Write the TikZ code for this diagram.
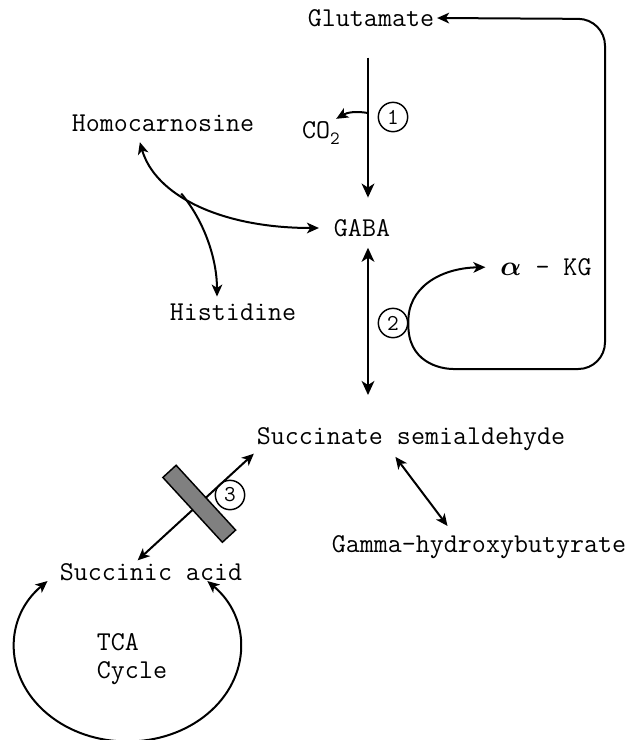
\documentclass[tikz,border=0pt]{standalone}
\usepackage{fontspec}
\usepackage{amsmath}
\usepackage{tikz}
\usetikzlibrary{arrows.meta}
\usetikzlibrary{positioning}

\begin{document}
\begin{tikzpicture}[x=0.75pt,y=-0.75pt,->,>={Stealth[length=9pt,width=8pt,inset=2.5pt]},semithick,
                    every node/.style={font=\ttfamily\fontsize{20.4}{21}\selectfont, inner sep=2pt},
                    every text node part/.style={align=left}]
  \tikzstyle{enz}=[circle,draw,line width=1.1pt,minimum size=22pt,inner sep=0pt,font=\ttfamily\fontsize{17}{17}\selectfont]
  \tikzstyle{heavy}=[line width=2.2pt,>={Stealth[length=10.5pt,width=9.5pt,inset=3pt]}]
  \tikzstyle{curve}=[line width=1.5pt]
  \tikzstyle{block}=[rectangle,draw,line width=1.1pt,fill=black!50,minimum width=13.5pt,minimum height=66pt,inner sep=0pt]

  \useasboundingbox (0,0) rectangle (636,740);

    \node (glu)  at (371,18)  {Glutamate};
    \node (gaba) at (362,228) {GABA};
    \node (homo) at (163,123) {Homocarnosine};
    \node (his)  at (233,312) {Histidine};
    \node (co2)  at (321,133) {CO\raisebox{-.45ex}{\fontsize{14}{14}\selectfont 2}};
    \node (akg)  at (546,267) {$\boldsymbol{\alpha}$ – KG};
    \node (ssa)  at (411,439) {Succinate semialdehyde};
    \node (ghb)  at (479,547) {Gamma-hydroxybutyrate};
    \node (succ) at (151,572) {Succinic acid};
    \node (tca)  at (132,659) {TCA\\Cycle};

    \node[enz] (n1) at (393,117) {1};
    \node[enz] (n2) at (393,323) {2};
    \node[enz] (n3) at (230,495) {3};

    \coordinate (c1) at (368,113);

  % glutamate -> GABA, with CO2 given off
  \draw[heavy,shorten <=21pt,shorten >=14pt] ([xshift=-2.25pt]glu.south) -- ([xshift=4.5pt]gaba.north);
  \draw[curve] (c1) to[bend right=20] ([xshift=-5pt]co2.north east);

  % GABA <-> succinate semialdehyde, alpha-KG loop back to glutamate
  \draw[heavy,<->,shorten <=6pt,shorten >=22pt] ([xshift=4.5pt]gaba.south) -- ([xshift=4.5pt]gaba.south |- ssa.north);
  \draw[curve,shorten >=9pt] (n2.east) .. controls (407,288) and (440,268) .. (akg.west);
  \draw[curve,rounded corners=20pt] (n2.east) .. controls (407,362) and (440,369) .. (480,369)
        -- (605,369) -- (605,19) -- (glu.east);

  % homocarnosine / histidine
  \draw[curve,<->,shorten <=6pt,shorten >=9pt] ([xshift=-19pt]homo.south)
        .. controls (155,195) and (220,228) .. coordinate[pos=0.4] (hj) (gaba.west);
  \draw[curve,shorten >=3pt] (hj) .. controls (205,222) and (217,260) .. ([xshift=-12pt]his.north);

  % succinate semialdehyde <-> succinic acid, blocked
  \draw[curve,<->] ([xshift=-10pt]succ.north) -- (ssa.south west)
        node[block,pos=0.53,sloped] (blk) {};
  \draw[curve,<->,shorten <=3pt,shorten >=6pt] ([xshift=-13.5pt]ssa.south) -- ([xshift=-20pt]ghb.north);

  % TCA cycle
  \draw[curve,<->] ([shift={(-7pt,2pt)}]succ.south west)
        arc[start angle=225, end angle=-45, x radius=113, y radius=94];

\end{tikzpicture}
\end{document}
